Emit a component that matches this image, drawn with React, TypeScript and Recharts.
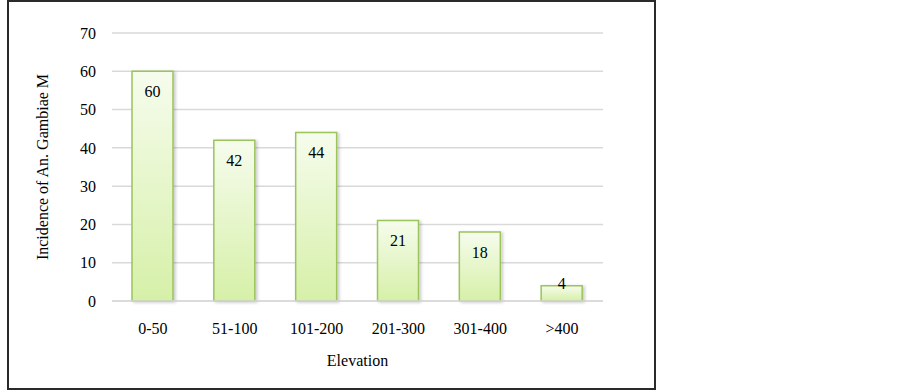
import { Bar, BarChart, CartesianGrid, LabelList, XAxis, YAxis, Label } from "recharts";

const ELEVATIONS = ["0-50", "51-100", "101-200", "201-300", "301-400", ">400"];
const INCIDENCE = [60, 42, 44, 21, 18, 4];
const Y_TICKS = [0, 10, 20, 30, 40, 50, 60, 70];

const data = ELEVATIONS.map((elevation, i) => ({ elevation, incidence: INCIDENCE[i] }));

const FONT = "'Liberation Serif', 'Times New Roman', serif";
const GRID = "#d9d9d9";
const STROKE = "#9bc45a";

// Excel-style value label: inside the top of the bar, above it when the bar is short
function ValueLabel(props: any) {
  const { x, y, width, height, value } = props;
  const cy = height > 30 ? y + 20 : y - 2;
  return (
    <text
      x={x + width / 2}
      y={cy}
      textAnchor="middle"
      dominantBaseline="central"
      fontFamily={FONT}
      fontSize={16}
      fill="#000"
    >
      {value}
    </text>
  );
}

function YTitle(props: any) {
  const { viewBox } = props;
  const cx = 42;
  const cy = viewBox.y + viewBox.height / 2;
  return (
    <text
      x={cx}
      y={cy}
      transform={`rotate(-90, ${cx}, ${cy})`}
      textAnchor="middle"
      dominantBaseline="central"
      fontFamily={FONT}
      fontSize={16}
      fill="#000"
    >
      Incidence of An. Gambiae M
    </text>
  );
}

export default function App() {
  return (
    <div style={{ position: "absolute", left: 0, top: 0, width: 903, height: 390, background: "#fff" }}>
      <div
        style={{
          position: "absolute",
          left: 7,
          top: 0,
          width: 645,
          height: 386,
          border: "2px solid #2a2a2a",
        }}
      />
      <BarChart
        width={903}
        height={390}
        data={data}
        margin={{ top: 33, right: 300, bottom: 19, left: 42 }}
        barSize={41}
        style={{ position: "absolute", left: 0, top: 0 }}
      >
        <defs>
          <linearGradient id="barFill" x1="0" y1="0" x2="0" y2="1">
            <stop offset="0%" stopColor="#f6fced" />
            <stop offset="100%" stopColor="#d6f0a8" />
          </linearGradient>
          <filter id="barShadow" x="-20%" y="-20%" width="150%" height="140%">
            <feDropShadow dx="2" dy="1" stdDeviation="1.5" floodColor="#000" floodOpacity="0.2" />
          </filter>
        </defs>
        <CartesianGrid stroke={GRID} strokeWidth={1.5} vertical={false} />
        <XAxis
          dataKey="elevation"
          height={70}
          tickLine={false}
          tickSize={0}
          tickMargin={22}
          axisLine={{ stroke: GRID, strokeWidth: 1.5 }}
          tick={{ fill: "#000", fontSize: 16, fontFamily: FONT }}
        >
          <Label
            value="Elevation"
            position="insideBottom"
            offset={5}
            style={{ fill: "#000", fontSize: 16, fontFamily: FONT }}
          />
        </XAxis>
        <YAxis
          width={70}
          domain={[0, 70]}
          ticks={Y_TICKS}
          tickLine={false}
          axisLine={false}
          tickSize={0}
          tickMargin={16}
          tick={{ fill: "#000", fontSize: 16, fontFamily: FONT }}
        >
          <Label content={<YTitle />} />
        </YAxis>
        <Bar
          dataKey="incidence"
          fill="url(#barFill)"
          stroke={STROKE}
          strokeWidth={1.5}
          filter="url(#barShadow)"
          isAnimationActive={false}
        >
          <LabelList dataKey="incidence" content={<ValueLabel />} />
        </Bar>
      </BarChart>
    </div>
  );
}
